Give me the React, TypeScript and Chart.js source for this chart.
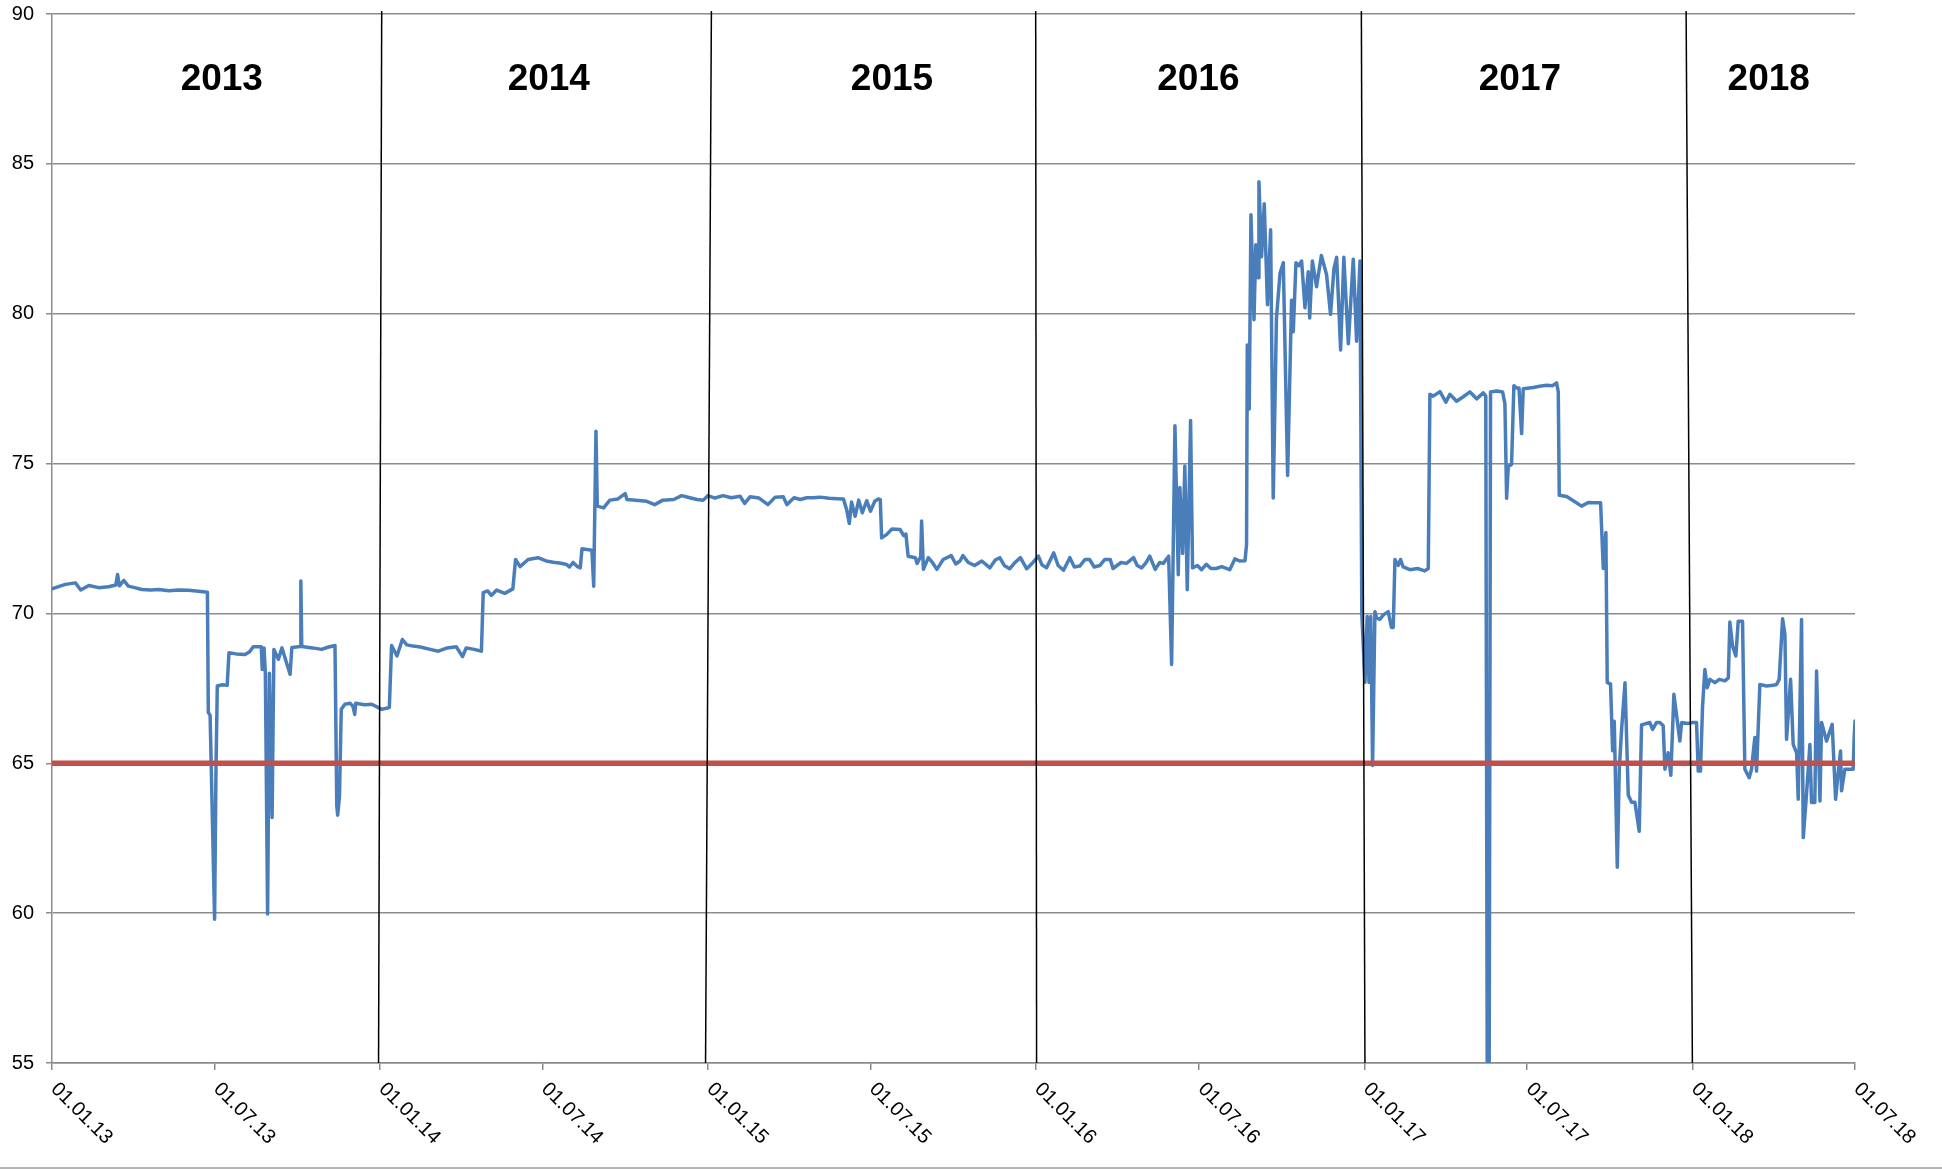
import React, { useEffect, useRef } from 'react';
import { Chart, registerables } from 'chart.js';

Chart.register(...registerables);

const START = Date.UTC(2013, 0, 1);
const DAY_MS = 86400000;
const dayOf = (s: string) => (Date.parse(s + 'T00:00:00Z') - START) / DAY_MS;

// X axis ticks (dates) and their labels
const tickDates = [
  '2013-01-01', '2013-07-01', '2014-01-01', '2014-07-01', '2015-01-01', '2015-07-01',
  '2016-01-01', '2016-07-01', '2017-01-01', '2017-07-01', '2018-01-01', '2018-07-01',
];
const tickLabels = [
  '01.01.13', '01.07.13', '01.01.14', '01.07.14', '01.01.15', '01.07.15',
  '01.01.16', '01.07.16', '01.01.17', '01.07.17', '01.01.18', '01.07.18',
];

// Y axis
const yMin = 55;
const yMax = 90;
const yStep = 5;

// Series: days since 01.01.2013 and values
const seriesDays = [
  0, 8, 15, 26, 32, 41, 52, 63, 71, 73, 75, 80, 85, 92, 100, 110, 119, 130, 141, 152, 163, 173,
  174, 176, 181, 182.5, 184, 190, 195, 197, 205, 215, 220, 224, 233, 234, 236, 237.5, 240, 242,
  245, 247, 252, 256, 265, 267, 276.5, 277, 278, 290, 300, 308, 315, 317, 318, 320, 322, 326,
  332, 335, 337, 338, 348, 356, 367, 375.5, 378, 384, 390,
  395, 402, 410, 421, 430, 440, 450, 457, 461, 470, 478, 480, 485, 489, 495, 504, 513, 516,
  521, 530, 541, 550, 558, 565, 573, 576, 580, 585, 588, 590, 601, 603, 605.5, 607, 614, 621,
  630, 638, 640, 650, 662, 671, 680, 692, 701, 710, 718, 725, 730, 738, 747, 756, 766, 771,
  777, 787, 797, 805, 814, 818, 826, 833, 840, 847, 855, 865, 874, 881, 884.5, 887.5, 890,
  894, 898, 902, 907, 911, 916, 920, 922, 923.5, 929, 935, 944, 948, 950.5, 953, 961, 963,
  967, 968, 970, 975.5, 980, 985, 992, 1001, 1006, 1010.7, 1014, 1020, 1027, 1035, 1044,
  1050, 1055, 1060, 1066, 1072, 1078, 1085, 1092, 1098, 1102, 1107, 1115, 1120, 1126, 1133,
  1138, 1144, 1150, 1155, 1160, 1166.5, 1172, 1178, 1181, 1190, 1196, 1204, 1208, 1213, 1218,
  1222, 1228, 1233, 1237, 1243, 1246.3, 1250, 1253.7, 1255.5, 1258.5, 1261, 1263.7, 1267.4,
  1269.6, 1275, 1279.6, 1285, 1290, 1296, 1302, 1311, 1316.7, 1322, 1328, 1329.7, 1330.5,
  1332.7, 1334.6, 1338, 1340, 1342.7, 1343.5, 1346.4, 1349.4, 1353, 1356.5, 1359.4, 1363,
  1367, 1370.6, 1375.4, 1379.8, 1381.7, 1384.7, 1388, 1391, 1394.7, 1398.4, 1400, 1403,
  1407.6, 1413, 1418.8, 1423.2, 1427, 1430, 1434.4, 1438, 1443, 1448.5, 1452.2, 1456, 1458,
  1461.5, 1464, 1466, 1468, 1470, 1472.6, 1474.5, 1478, 1482, 1487.4, 1491, 1493, 1494.9,
  1498.6, 1501.2, 1504, 1511.6, 1520, 1528, 1532, 1533.8, 1537.5, 1545, 1551.6, 1556, 1563.5,
  1571, 1578.4, 1585.8, 1593.2, 1596, 1597.6, 1599.8, 1601.3, 1608, 1614.7, 1617.3, 1619.2,
  1621, 1624.7, 1627.3, 1630.3, 1633, 1635.9, 1637.7, 1648.8, 1656, 1663.7, 1670, 1674.8,
  1676.7, 1677.8, 1686, 1693.4, 1702.7, 1710, 1715.6, 1723.8, 1726.8, 1729.7, 1731.2, 1734.9,
  1737.2, 1739, 1742.4, 1744.6, 1747.2, 1751, 1754.6, 1758.3, 1762, 1766.8, 1769.4, 1778.7,
  1781.7, 1786, 1789.8, 1793.5, 1795.4, 1799, 1802, 1805.4, 1808.4, 1812, 1814, 1821, 1826,
  1830.6, 1832.5, 1835, 1837.3, 1839.9, 1842.5, 1845.5, 1851, 1856, 1862.2, 1866, 1867.7,
  1870.7, 1874.4, 1877, 1881.8, 1884.4, 1889.2, 1891.8, 1895.5, 1897.4, 1901.1, 1908.5, 1916,
  1919.7, 1922.6, 1926.4, 1929, 1930.8, 1935.3, 1938.2, 1942, 1943.8, 1947.5, 1949.4, 1953.1,
  1956.8, 1958.6, 1962.3, 1964.2, 1968, 1969.8, 1975.3, 1981.6, 1985.4, 1988.3, 1990.9, 1992,
  1995.7, 2005, 2006, 2007,
];
const seriesValues = [
  70.82, 70.9, 70.97, 71.02, 70.78, 70.93, 70.86, 70.89, 70.95, 71.3, 70.92, 71.1, 70.91, 70.86, 70.8, 70.78, 70.8, 70.76, 70.78, 70.77, 70.74, 70.71,
  66.7, 66.6, 59.8, 64.7, 67.58, 67.62, 67.6, 68.69, 68.65, 68.63, 68.72, 68.89, 68.89, 68.13, 68.85, 68.0, 59.97, 68.0,
  63.19, 68.8, 68.47, 68.85, 67.97, 68.86, 68.9, 71.08, 68.9, 68.85, 68.8, 68.88, 68.93, 63.58, 63.27, 63.9, 66.8, 66.97,
  67.0, 66.9, 66.63, 67.0, 66.95, 66.97, 66.8, 66.86, 68.93, 68.58, 69.13,
  68.95, 68.91, 68.88, 68.8, 68.74, 68.85, 68.89, 68.56, 68.85, 68.8, 68.74, 70.69, 70.75, 70.6, 70.78, 70.67, 70.82, 71.8,
  71.56, 71.8, 71.86, 71.75, 71.71, 71.68, 71.63, 71.55, 71.7, 71.56, 71.52, 72.16, 72.11, 70.91, 76.08, 73.58, 73.52, 73.78,
  73.82, 74.0, 73.8, 73.78, 73.74, 73.63, 73.78, 73.8, 73.93, 73.86, 73.8, 73.78, 73.93, 73.85, 73.93, 73.86, 73.91, 73.67,
  73.89, 73.85, 73.63, 73.88, 73.89, 73.63, 73.86, 73.8, 73.86, 73.86, 73.88, 73.84, 73.83, 73.82, 73.47, 73.0, 73.72,
  73.24, 73.78, 73.36, 73.76, 73.41, 73.75, 73.82, 73.8, 72.52, 72.63, 72.82, 72.8, 72.6, 72.65, 71.91, 71.86, 71.67,
  71.9, 73.08, 71.47, 71.86, 71.7, 71.47, 71.8, 71.93, 71.65, 71.75, 71.93, 71.7, 71.6, 71.75, 71.52,
  71.78, 71.86, 71.6, 71.49, 71.7, 71.86, 71.49, 71.7, 71.91, 71.62, 71.52, 72.02, 71.6, 71.44, 71.86,
  71.55, 71.58, 71.8, 71.8, 71.55, 71.6, 71.8, 71.8, 71.5, 71.7, 71.67, 71.86, 71.6, 71.52, 71.7,
  71.91, 71.47, 71.7, 71.67, 71.91, 68.3, 76.26, 71.29, 74.2, 72.0, 74.92, 70.79, 76.44,
  71.52, 71.6, 71.46, 71.64, 71.5, 71.5, 71.56, 71.46, 71.82, 71.75, 71.76, 72.3, 78.96,
  76.82, 83.3, 79.8, 82.3, 81.2, 84.4, 81.9, 83.67, 80.3, 82.8, 73.85, 79.86,
  81.35, 81.7, 74.6, 80.45, 79.4, 81.7, 81.6, 81.76, 80.2, 81.4, 79.86, 81.76,
  80.9, 81.94, 81.3, 79.98, 81.5, 81.88, 78.79, 81.88, 79.0, 81.82, 79.08, 81.76, 70.0,
  67.7, 69.9, 67.7, 69.9, 64.93, 70.06, 69.85, 69.8, 69.95, 70.06, 69.53, 69.53, 71.8,
  71.6, 71.8, 71.55, 71.46, 71.5, 71.42, 71.5, 77.31, 77.25, 77.4, 77.05, 77.31, 77.08,
  77.23, 77.39, 77.16, 77.36, 77.25, 55.0, 55.0, 77.39, 77.42, 77.39, 77.0, 73.84,
  74.9, 74.97, 77.6, 77.52, 77.52, 76.0, 77.5, 77.54, 77.58, 77.61, 77.6, 77.69,
  77.39, 73.94, 73.9, 73.76, 73.58, 73.7, 73.69, 73.69, 71.5, 72.7, 67.7, 67.64,
  65.42, 66.4, 61.53, 64.8, 66.13, 67.69, 63.94, 63.7, 63.7, 62.73, 66.28, 66.36,
  66.13, 66.36, 66.36, 66.25, 64.8, 65.35, 64.6, 67.3, 66.6, 65.74, 66.36, 66.33, 66.36,
  66.36, 64.74, 64.74, 66.9, 68.13, 67.52, 67.8, 67.69, 67.8, 67.75, 67.85, 69.71,
  68.91, 68.58, 69.74, 69.74, 64.8, 64.52, 64.8, 65.86, 64.74, 67.63, 67.58, 67.6,
  67.63, 67.8, 69.82, 69.3, 65.8, 67.8, 65.63, 65.35, 63.8, 69.8, 62.52, 64.0,
  65.63, 63.69, 63.69, 68.08, 63.74, 66.36, 65.74, 66.3, 63.8, 64.69, 65.41, 64.08,
  64.8, 64.8, 65.8, 66.41,
];

// Threshold line
const thresholdValue = 65;

// Year dividers (day at top edge / day at bottom edge) and year captions
const dividerTopDays = [367, 734, 1095, 1457.5, 1819];
const dividerBottomDays = [363.5, 727.5, 1096, 1461.5, 1826];
const dividerTopValue = 90.1;
const yearLabels = ['2013', '2014', '2015', '2016', '2017', '2018'];
const yearLabelDays = [189, 553, 935, 1276, 1634, 1911];
const yearLabelValue = 87.8;

const FONT = "'Liberation Sans', Arial, Helvetica, sans-serif";

const overlayPlugin = {
  id: 'overlay',
  afterDraw(chart: any) {
    const { ctx } = chart;
    const x = chart.scales.x;
    const y = chart.scales.y;
    ctx.save();
    ctx.fillStyle = '#000';
    ctx.font = `20px ${FONT}`;
    ctx.textAlign = 'left';
    ctx.textBaseline = 'middle';
    tickDates.forEach((d, i) => {
      const px = x.getPixelForValue(dayOf(d));
      ctx.save();
      ctx.translate(px + 2, x.top + 23);
      ctx.rotate(Math.PI / 4);
      ctx.fillText(tickLabels[i], 0, 0);
      ctx.restore();
    });
    ctx.font = `bold 37px ${FONT}`;
    ctx.textAlign = 'center';
    yearLabels.forEach((t, i) => {
      ctx.fillText(t, x.getPixelForValue(yearLabelDays[i]), y.getPixelForValue(yearLabelValue));
    });
    ctx.strokeStyle = '#b4b4b4';
    ctx.lineWidth = 2;
    ctx.beginPath();
    ctx.moveTo(0, chart.height - 1);
    ctx.lineTo(chart.width, chart.height - 1);
    ctx.stroke();
    ctx.restore();
  },
};

export default function App() {
  const ref = useRef<HTMLCanvasElement | null>(null);

  useEffect(() => {
    if (!ref.current) return;
    const tickDays = tickDates.map(dayOf);
    const lastDay = tickDays[tickDays.length - 1];

    const datasets: any[] = [
      {
        label: 'Wert',
        data: seriesDays.map((d, i) => ({ x: d, y: seriesValues[i] })),
        borderColor: '#4a7ebb',
        borderWidth: 3.5,
        borderJoinStyle: 'round',
        borderCapStyle: 'round',
        pointRadius: 0,
        tension: 0,
        order: 2,
      },
      {
        label: 'Grenze',
        data: [
          { x: 0, y: thresholdValue },
          { x: lastDay, y: thresholdValue },
        ],
        borderColor: '#c0504d',
        borderWidth: 5.5,
        pointRadius: 0,
        order: 1,
      },
      ...dividerTopDays.map((d, i) => ({
        label: 'div' + i,
        data: [
          { x: d, y: dividerTopValue },
          { x: dividerBottomDays[i], y: yMin },
        ],
        borderColor: '#000',
        borderWidth: 1.5,
        pointRadius: 0,
        clip: false,
        order: 0,
      })),
    ];

    const chart = new Chart(ref.current, {
      type: 'line',
      data: { datasets },
      options: {
        animation: false,
        responsive: false,
        maintainAspectRatio: false,
        layout: { padding: { left: 0, top: 14, right: 87, bottom: 0 } },
        plugins: {
          legend: { display: false },
          tooltip: { enabled: false },
        },
        scales: {
          x: {
            type: 'linear',
            min: 0,
            max: lastDay,
            afterBuildTicks: (scale: any) => {
              scale.ticks = tickDays.map((v) => ({ value: v }));
            },
            afterFit: (scale: any) => {
              scale.height = 106;
              scale.paddingLeft = 0;
              scale.paddingRight = 0;
            },
            ticks: { display: false },
            grid: {
              drawOnChartArea: false,
              drawTicks: true,
              tickLength: 7,
              color: '#8c8c8c',
              lineWidth: 1.5,
            },
            border: { display: true, color: '#8c8c8c', width: 1.5 },
          },
          y: {
            min: yMin,
            max: yMax,
            afterFit: (scale: any) => {
              scale.width = 52;
              scale.paddingTop = 0;
              scale.paddingBottom = 0;
            },
            ticks: {
              stepSize: yStep,
              color: '#000',
              padding: 12,
              font: { family: FONT, size: 20 },
            },
            grid: {
              color: '#8c8c8c',
              lineWidth: 1.5,
              tickLength: 6,
            },
            border: { display: true, color: '#8c8c8c', width: 1.5 },
          },
        },
      },
      plugins: [overlayPlugin],
    });
    return () => chart.destroy();
  }, []);

  return (
    <div style={{ position: 'absolute', left: 0, top: 0, width: 1942, height: 1169, background: '#fff' }}>
      <canvas ref={ref} width={1942} height={1169} style={{ display: 'block', width: 1942, height: 1169 }} />
    </div>
  );
}
